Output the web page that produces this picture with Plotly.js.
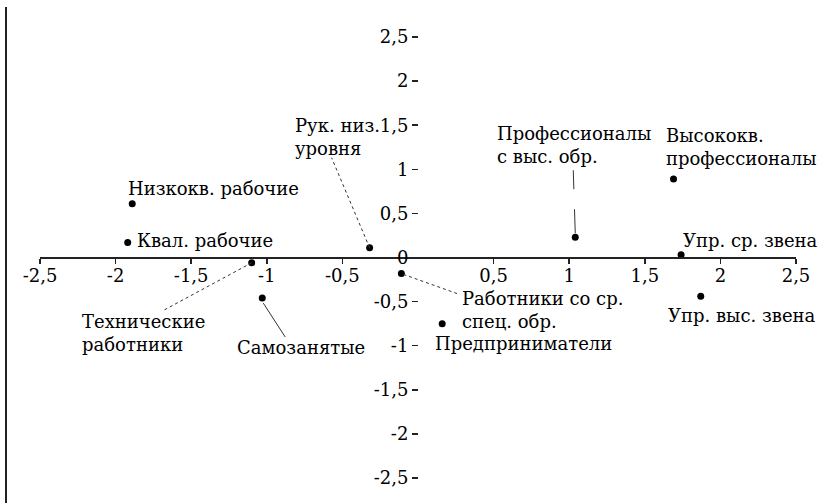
<!DOCTYPE html>
<html>
<head>
<meta charset="utf-8">
<script src="https://cdn.plot.ly/plotly-3.0.1.min.js"></script>
<style>html,body{margin:0;padding:0;background:#fff;}</style>
</head>
<body>
<div id="chart" style="width:823px;height:503px;"></div>
<script>
// ---- data ----
const groupLabels = [
  "Низкокв. рабочие",
  "Квал. рабочие",
  "Рук. низ.<br>уровня",
  "Технические<br>работники",
  "Самозанятые",
  "Работники со ср.<br>спец. обр.",
  "Предприниматели",
  "Профессионалы<br>с выс. обр.",
  "Высококв.<br>профессионалы",
  "Упр. ср. звена",
  "Упр. выс. звена"
];
const xValues = [-1.89, -1.92, -0.32, -1.10, -1.03, -0.11, 0.16, 1.04, 1.69, 1.74, 1.87];
const yValues = [0.61, 0.17, 0.11, -0.06, -0.46, -0.18, -0.75, 0.23, 0.89, 0.03, -0.44];

const xTickVals = [-2.5, -2, -1.5, -1, -0.5, 0.5, 1, 1.5, 2, 2.5];
const xTickText = ["-2,5", "-2", "-1,5", "-1", "-0,5", "0,5", "1", "1,5", "2", "2,5"];
const yTickVals = [2.5, 2, 1.5, 1, 0.5, 0, -0.5, -1, -1.5, -2, -2.5];
const yTickText = ["2,5", "2", "1,5", "1", "0,5", "0", "-0,5", "-1", "-1,5", "-2", "-2,5"];

// ---- layout helpers (screen-pixel offsets from each point) ----
const labelShift = [
  [-6, 15], [7, 2], [-77, 111], [-172, -70], [-27, -49],
  [59, -37], [-9, -20], [-80, 92], [-10, 32], [0, 14], [-35, -19]
];
const leaders = [
  {i: 2, a: [0, 0], b: [-38, -90], dash: "dot"},
  {i: 3, a: [0, 0], b: [-89, 48], dash: "dot"},
  {i: 4, a: [1, 5], b: [23, 39], dash: "solid"},
  {i: 5, a: [2, 1], b: [58, 21], dash: "dot"},
  {i: 7, a: [0, -4], b: [-2, -67], dash: "24px,20px"}
];

const FONT = "DejaVu Serif";
const FS = 18;

const annotations = groupLabels.map((t, k) => ({
  x: xValues[k], y: yValues[k], xref: "x", yref: "y",
  text: t, showarrow: false, align: "left",
  xanchor: "left", yanchor: "middle",
  xshift: labelShift[k][0], yshift: labelShift[k][1],
  font: {family: FONT, size: FS, color: "#000"}
}));

const shapes = leaders.map(L => ({
  type: "line", xref: "x", yref: "y",
  xsizemode: "pixel", ysizemode: "pixel",
  xanchor: xValues[L.i], yanchor: yValues[L.i],
  x0: L.a[0], x1: L.b[0], y0: -L.a[1], y1: -L.b[1],
  line: {color: "#333", width: 1, dash: L.dash}
}));
shapes.push({
  type: "line", xref: "paper", yref: "paper",
  xsizemode: "pixel", ysizemode: "pixel",
  xanchor: 0, yanchor: 1,
  x0: -34, x1: -34, y0: 30, y1: -480,
  line: {color: "#222", width: 2}
});

const trace = {
  type: "scatter", mode: "markers",
  x: xValues, y: yValues,
  marker: {color: "#000", size: 7},
  cliponaxis: false, hoverinfo: "skip"
};

const axisFont = {family: FONT, size: FS, color: "#000"};
const layout = {
  width: 823, height: 503,
  margin: {l: 40, r: 27, t: 37, b: 25},
  paper_bgcolor: "#fff", plot_bgcolor: "#fff",
  showlegend: false, hovermode: false,
  font: {family: FONT, size: FS, color: "#000"},
  xaxis: {
    range: [-2.5, 2.5], anchor: "free", position: 0.5,
    showline: true, linecolor: "#222", linewidth: 2,
    ticks: "outside", ticklen: 5, tickwidth: 1.5, tickcolor: "#222",
    ticklabelstandoff: -3,
    tickvals: xTickVals, ticktext: xTickText, tickfont: axisFont,
    showgrid: false, zeroline: false, fixedrange: true
  },
  yaxis: {
    range: [-2.5, 2.5], anchor: "free", position: 0.5,
    showline: false,
    ticks: "outside", ticklen: 6, tickwidth: 1.5, tickcolor: "#222",
    tickvals: yTickVals, ticktext: yTickText, tickfont: axisFont,
    showgrid: false, zeroline: false, fixedrange: true
  },
  annotations: annotations,
  shapes: shapes
};

Plotly.newPlot("chart", [trace], layout, {staticPlot: true, displayModeBar: false});
</script>
</body>
</html>
